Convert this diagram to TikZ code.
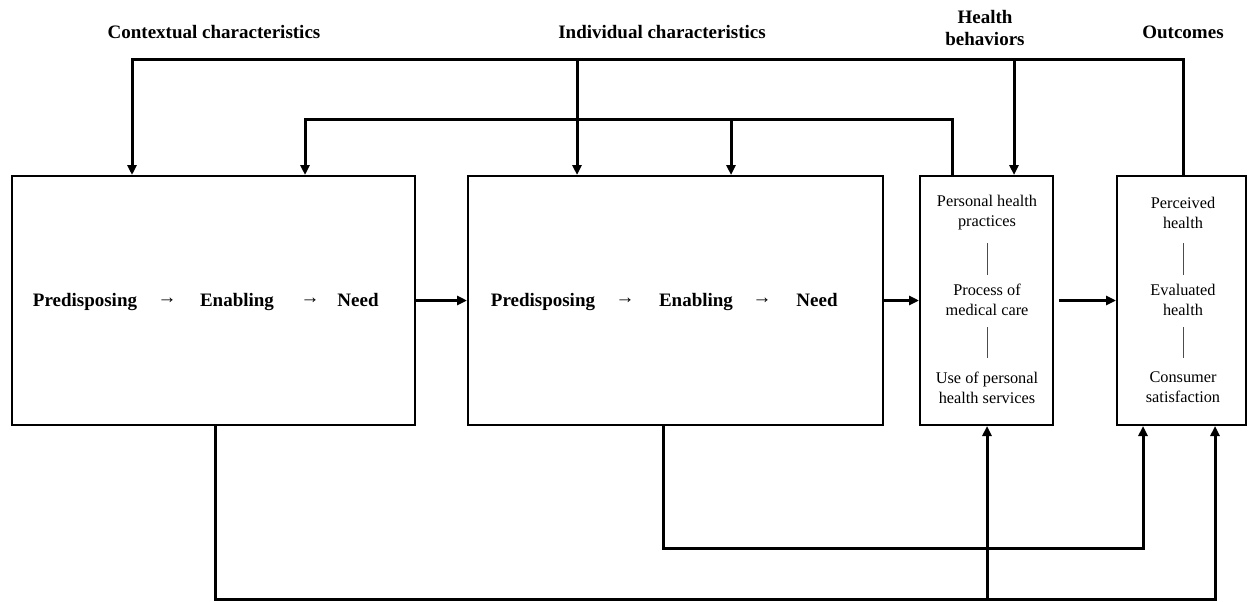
\documentclass[tikz,border=0pt]{standalone}
\usepackage{fontspec}
\setmainfont{Liberation Serif}
\usetikzlibrary{arrows.meta}
\begin{document}
\begin{tikzpicture}[x=1pt,y=-1pt,
  box/.style={draw=black,line width=2pt,fill=white,inner sep=0pt},
  lab/.style={font=\fontsize{19}{22}\selectfont\bfseries,align=center,inner sep=0pt},
  rowtxt/.style={font=\fontsize{19}{22}\selectfont\bfseries,inner sep=0pt,anchor=base},
  smalltxt/.style={font=\fontsize{16.3}{20}\selectfont,align=center,inner sep=0pt},
  conn/.style={draw=black,line width=3pt},
  lowconn/.style={draw=black,line width=3pt},
  tip/.style={-{Triangle[length=10pt,width=9pt]}},
  sepline/.style={draw=black!70,line width=1pt}]
\useasboundingbox (0,0) rectangle (1248,602);

% boxes
\node[box,minimum width=403pt,minimum height=249pt] (b1) at (213.5,300.5) {};
\node[box,minimum width=415pt,minimum height=249pt] (b2) at (675.5,300.5) {};
\node[box,minimum width=133pt,minimum height=249pt] (b3) at (986.5,300.5) {};
\node[box,minimum width=129pt,minimum height=249pt] (b4) at (1181.5,300.5) {};

% header labels
\node[lab] (lc) at (214,32) {Contextual characteristics};
\node[lab] (li) at (662,32) {Individual characteristics};
\node[lab] (lh) at (985,28) {Health\\behaviors};
\node[lab] (lo) at (1183,32) {Outcomes};

% row texts box 1
\node[rowtxt] (p1) at (85,306) {Predisposing};
\node[rowtxt] (a1) at (167,303.5) {→};
\node[rowtxt] (e1t) at (237,306) {Enabling};
\node[rowtxt] (a2) at (310,303.5) {→};
\node[rowtxt] (n1) at (358,306) {Need};
% row texts box 2
\node[rowtxt] (p2) at (543,306) {Predisposing};
\node[rowtxt] (a3) at (625,303.5) {→};
\node[rowtxt] (e2t) at (696,306) {Enabling};
\node[rowtxt] (a4) at (762,303.5) {→};
\node[rowtxt] (n2) at (817,306) {Need};

% box 3 texts
\node[smalltxt] (h1) at (987,213) {Personal health\\practices};
\node[smalltxt] (h2) at (987,300) {Process of\\medical care};
\node[smalltxt] (h3) at (987,387.5) {Use of personal\\health services};
\coordinate (s1a) at (987,243); \coordinate (s1b) at (987,275);
\coordinate (s2a) at (987,327); \coordinate (s2b) at (987,358);
\draw[sepline] (s1a) -- (s1b);
\draw[sepline] (s2a) -- (s2b);

% box 4 texts
\node[smalltxt] (o1) at (1183,213) {Perceived\\health};
\node[smalltxt] (o2) at (1183,300) {Evaluated\\health};
\node[smalltxt] (o3) at (1183,387.5) {Consumer\\satisfaction};
\coordinate (s3a) at (1183,243); \coordinate (s3b) at (1183,275);
\coordinate (s4a) at (1183,327); \coordinate (s4b) at (1183,358);
\draw[sepline] (s3a) -- (s3b);
\draw[sepline] (s4a) -- (s4b);

% top connector network
\coordinate (c1) at (132,60);
\coordinate (c2) at (577,60);
\coordinate (c3) at (1014,60);
\coordinate (c4) at (1183,60);
\draw[conn,tip] (c4 |- b4.north) -- (c4) -- (c1) -- (c1 |- b1.north);
\draw[conn,tip] (c2) -- (c2 |- b2.north);
\draw[conn,tip] (c3) -- (c3 |- b3.north);

\coordinate (d1) at (305,119);
\coordinate (d2) at (731,119);
\coordinate (d3) at (952,119);
\draw[conn,tip] (d3 |- b3.north) -- (d3) -- (d1) -- (d1 |- b1.north);
\draw[conn,tip] (d2) -- (d2 |- b2.north);

% horizontal arrows
\draw[conn,tip] (b1.east) -- (b2.west);
\draw[conn,tip] (b2.east) -- (b3.west);
\draw[conn,tip] ([xshift=5pt]b3.east) -- (b4.west);

% bottom connectors
\coordinate (f2) at (663,548);
\coordinate (f4) at (1143,548);
\draw[lowconn,tip] (f2 |- b2.south) -- (f2) -- (f4) -- (f4 |- b4.south);

\coordinate (g1) at (215,599.5);
\coordinate (g3) at (987,599.5);
\coordinate (g4) at (1215,599.5);
\draw[lowconn,tip] (g1 |- b1.south) -- (g1) -- (g4) -- (g4 |- b4.south);
\draw[lowconn,tip] (g3) -- (g3 |- b3.south);
\end{tikzpicture}
\end{document}
